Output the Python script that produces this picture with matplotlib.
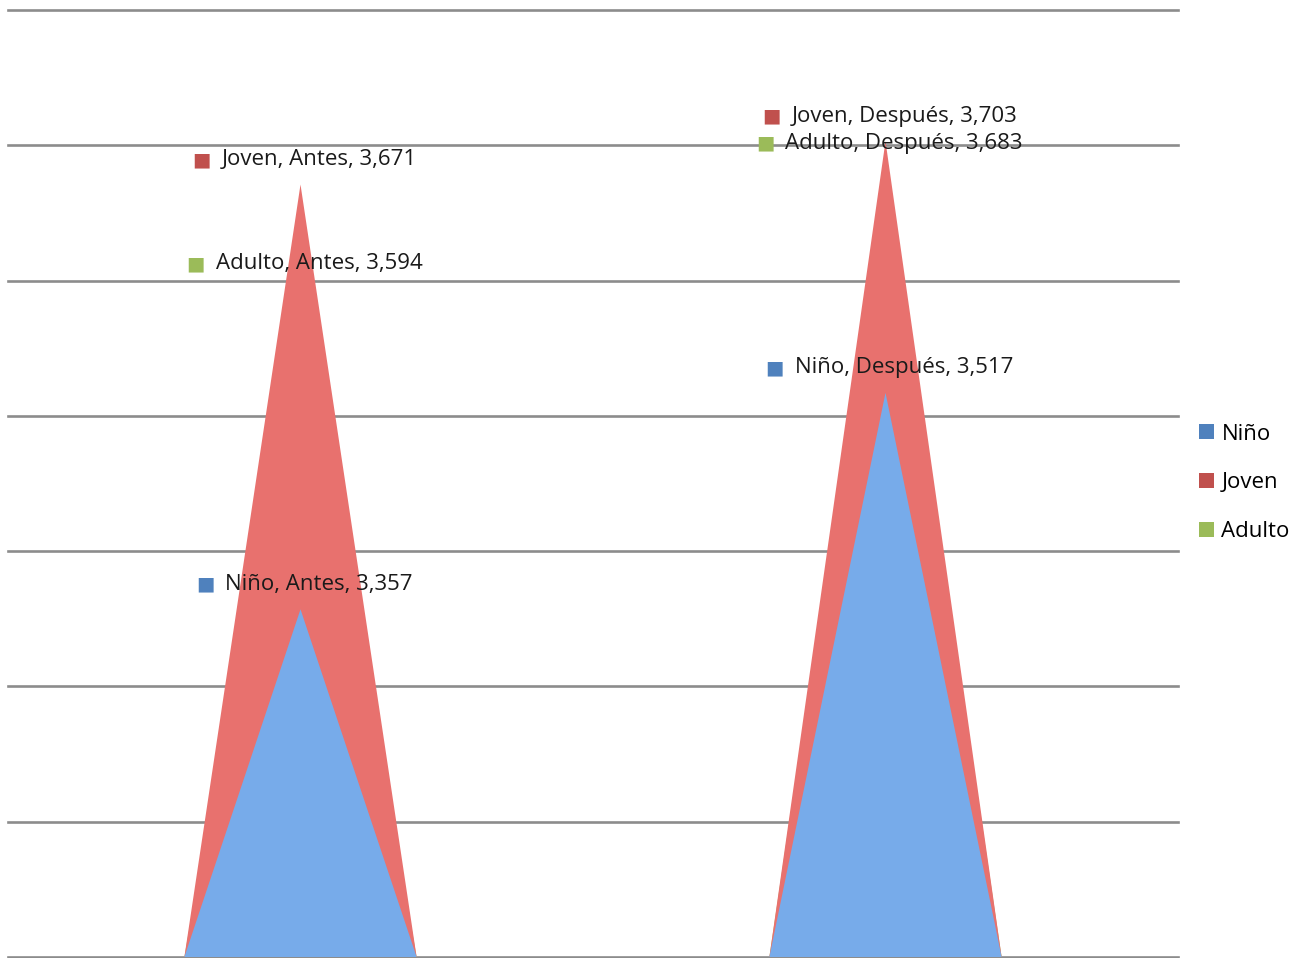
import matplotlib
matplotlib.use('Agg')
import matplotlib.pyplot as plt
from matplotlib.patches import Patch
from matplotlib.offsetbox import TextArea, HPacker, AnnotationBbox

plt.rcParams['font.family'] = ['Open Sans', 'DejaVu Sans']

# ── Data ──────────────────────────────────────────────────────────────────────
categories = ["Antes", "Después"]
series     = ["Niño", "Joven", "Adulto"]
nino   = [3.357, 3.517]
joven  = [3.671, 3.703]
adulto = [3.594, 3.683]

fill_colors   = {"Niño": "#77ABEA", "Joven": "#E8716E", "Adulto": "#A5C763"}
marker_colors = {"Niño": "#4F81BD", "Joven": "#C0504D", "Adulto": "#9BBB59"}

Y_MIN, Y_MAX, Y_STEP = 3.1, 3.8, 0.1
BASE_W = 0.397          # triangle base width as fraction of category width
FS = 16

fig = plt.figure(figsize=(13.15, 9.58), dpi=100)
ax = fig.add_axes([8 / 1315, 1 - 957 / 958, 1170 / 1315, 947 / 958])

values = {"Niño": nino, "Joven": joven, "Adulto": adulto}
zorders = {"Niño": 4, "Joven": 3, "Adulto": 2}

for name in series:
    for i, v in enumerate(values[name]):
        xs = [i - BASE_W / 2, i, i + BASE_W / 2]
        ys = [Y_MIN, v, Y_MIN]
        ax.fill(xs, ys, color=fill_colors[name], lw=0, zorder=zorders[name])

# data labels: coloured square + "serie, categoría, valor"
for name in series:
    for i, v in enumerate(values[name]):
        txt = f"{name}, {categories[i]}, {v:.3f}".replace('.', ',')
        sq = TextArea("■", textprops=dict(color=marker_colors[name], fontsize=14,
                                          family='DejaVu Sans'))
        lb = TextArea(txt, textprops=dict(color="#1a1a1a", fontsize=FS))
        box = HPacker(children=[sq, lb], align="center", pad=0, sep=8)
        ab = AnnotationBbox(box, (i, v), xybox=(4, 25), boxcoords="offset pixels",
                            frameon=False, box_alignment=(0.5, 0.5), zorder=10)
        ax.add_artist(ab)

ax.set_xlim(-0.5, 1.5)
ax.set_ylim(Y_MIN, Y_MAX)
yt = [Y_MIN + k * Y_STEP for k in range(8)]
ax.set_yticks(yt)
ax.set_xticks([])
ax.tick_params(left=False, labelleft=False)
for s in ax.spines.values():
    s.set_visible(False)
for y in yt:
    ax.axhline(y, color="#8c8c8c", lw=1.9, zorder=1, clip_on=False)

handles = [Patch(facecolor=marker_colors[n], edgecolor='none') for n in series]
fig.legend(handles, series, loc='center left', bbox_to_anchor=(1199 / 1315, 1 - 483 / 958),
           frameon=False, fontsize=FS, handlelength=0.66, handleheight=0.66,
           handletextpad=0.35, labelspacing=1.25, borderpad=0, borderaxespad=0)

fig.savefig("out.png", dpi=100)
